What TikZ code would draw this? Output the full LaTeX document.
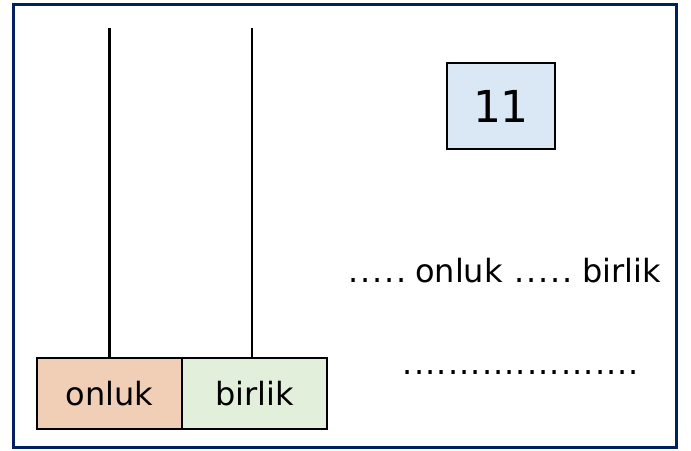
\documentclass[tikz,border=0pt]{standalone}
\usepackage{fontspec}
\setmainfont{DejaVu Sans}
\definecolor{frame}{RGB}{0,32,96}
\definecolor{peach}{RGB}{241,206,182}
\definecolor{lgreen}{RGB}{226,239,218}
\definecolor{lblue}{RGB}{218,232,245}
\newcommand\dd[1]{\makebox[#1][c]{.}}
\begin{document}
\begin{tikzpicture}[x=1pt,y=-1pt,
  cell/.style={draw=black,line width=1.8pt,minimum width=145pt,minimum height=71pt,inner sep=0pt,font=\fontsize{32}{38}\selectfont},
  rod/.style={line width=2.8pt,black}]
\useasboundingbox (0,0) rectangle (691,450);
\draw[frame,line width=3pt] (13.5,4) rectangle (676,447);
\node[cell,fill=peach] (onluk) at (109.5,393.5) {onluk};
\node[cell,fill=lgreen] (birlik) at (254.5,393.5) {birlik};
\coordinate (t1) at (109.5,28);
\coordinate (t2) at (252,28);
\draw[rod] (onluk.north -| t1) -- (t1);
\draw[rod] (birlik.north -| t2) -- (t2);
\node[draw=black,line width=1.8pt,fill=lblue,minimum width=108pt,minimum height=86pt,inner sep=0pt,font=\fontsize{44}{52}\selectfont] (eleven) at (501,106) {11};
\node[anchor=base west,inner sep=0pt,font=\fontsize{32}{38}\selectfont] (line1) at (347.5,282) {\dd{12pt}\dd{12pt}\dd{12pt}\dd{12pt}\dd{12pt}\hspace{7.5pt}onluk\hspace{11pt}\dd{12pt}\dd{12pt}\dd{12pt}\dd{12pt}\dd{12pt}\hspace{8.5pt}birlik};
\node[anchor=base,inner sep=0pt,font=\fontsize{32}{38}\selectfont] (line2) at (521,374) {\dd{11.3pt}\dd{11.3pt}\dd{11.3pt}\dd{11.3pt}\dd{11.3pt}\dd{11.3pt}\dd{11.3pt}\dd{11.3pt}\dd{11.3pt}\dd{11.3pt}\dd{11.3pt}\dd{11.3pt}\dd{11.3pt}\dd{11.3pt}\dd{11.3pt}\dd{11.3pt}\dd{11.3pt}\dd{11.3pt}\dd{11.3pt}\dd{11.3pt}\dd{11.3pt}};
\end{tikzpicture}
\end{document}
